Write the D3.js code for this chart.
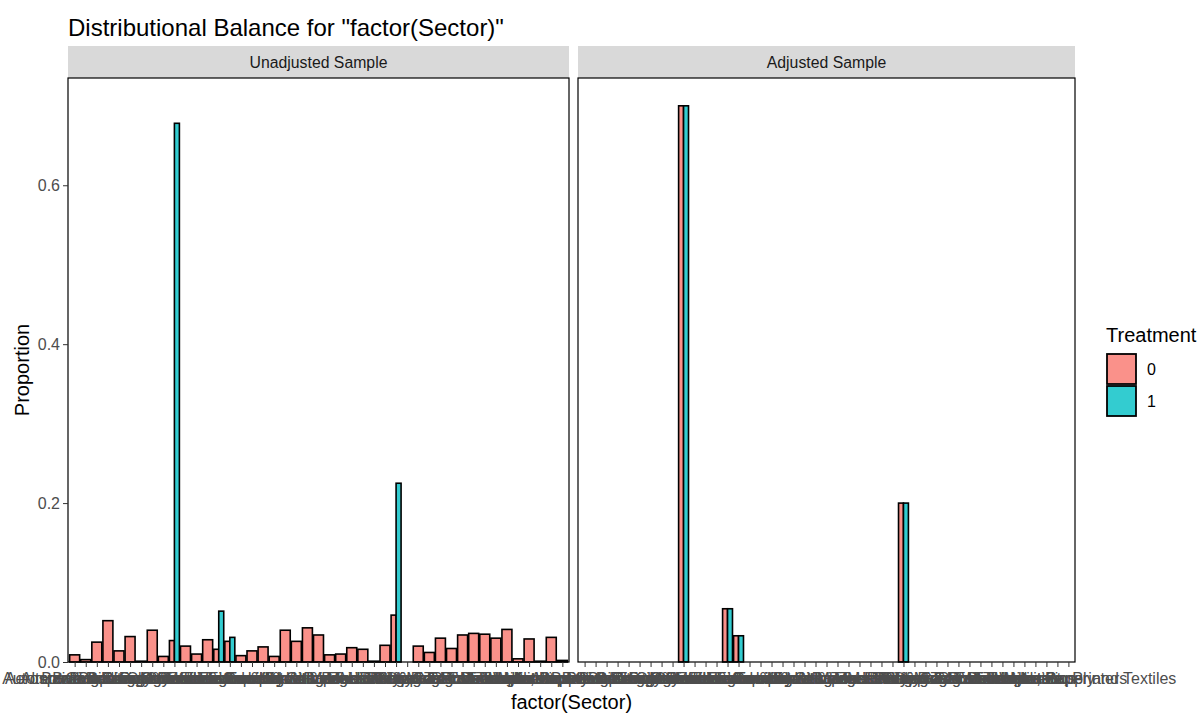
<!DOCTYPE html>
<html>
<head>
<meta charset="utf-8">
<script src="https://cdn.jsdelivr.net/npm/d3@7"></script>
<style>
  body { margin: 0; background: #fff; }
  text { font-family: "Liberation Sans", Arial, sans-serif; }
</style>
</head>
<body>
<script>
// sector levels (alphabetical factor order)
var sectors = [
  "Aerospace Defense", "Alternative Energy", "Automotive & Components",
  "Banking & Finance", "Biotechnology", "Broadcasting & Media", "Building Materials",
  "Business Services", "Chemicals", "Computer Software & Services", "Construction",
  "Consumer Electronics", "Consumer Goods", "Education", "Electrical Equipment",
  "Engineering", "Entertainment & Leisure", "Environmental Services", "Food & Beverages",
  "Forestry & Paper", "Furniture", "Healthcare", "Hotels & Tourism", "Information Technology",
  "Insurance", "Logistics", "Machinery", "Marine & Shipping", "Medical Devices",
  "Metals & Mining", "Oil & Gas", "Pharmaceuticals", "Plastics & Rubber", "Printing & Publishing",
  "Real Estate", "Research & Development", "Retail Trade", "Semiconductors",
  "Telecommunications", "Textiles", "Transportation", "Utilities", "Water Supply",
  "Wholesale, Printers", "Wholesale, Paper and Textiles"
];

// proportions by sector, null = group absent
var unadjTreat0 = [
  0.009, 0.003, 0.025, 0.052, 0.014, 0.032, 0.001, 0.040, 0.007, 0.027,
  0.020, 0.010, 0.028, 0.016, 0.026, 0.008, 0.014, 0.019, 0.007, 0.040,
  0.026, 0.043, 0.034, 0.009, 0.010, 0.018, 0.016, 0.001, 0.021, 0.059,
  null, 0.020, 0.012, 0.030, 0.017, 0.034, 0.036, 0.035, 0.030, 0.041,
  0.004, 0.029, 0.001, 0.031, 0.002
];
var unadjTreat1 = [
  null, null, null, null, null, null, null, null, null, 0.678,
  null, null, null, 0.064, 0.031, null, null, null, null, null,
  null, null, null, null, null, null, null, null, null, 0.225,
  null, null, null, null, null, null, null, null, null, null,
  null, null, null, null, null
];
var adjTreat0 = [
  null, null, null, null, null, null, null, null, null, 0.700,
  null, null, null, 0.067, 0.033, null, null, null, null, null,
  null, null, null, null, null, null, null, null, null, 0.200,
  null, null, null, null, null, null, null, null, null, null,
  null, null, null, null, null
];
var adjTreat1 = [
  null, null, null, null, null, null, null, null, null, 0.700,
  null, null, null, 0.067, 0.033, null, null, null, null, null,
  null, null, null, null, null, null, null, null, null, 0.200,
  null, null, null, null, null, null, null, null, null, null,
  null, null, null, null, null
];
var yTicks = [0, 0.2, 0.4, 0.6];
var groups = ["0", "1"];

var width = 1199, height = 713;
var fills = { "0": "#FA918A", "1": "#33CCD0" };

var svg = d3.select("body").append("svg")
  .attr("width", width)
  .attr("height", height);

var panelTop = 78, panelBottom = 662;
var panels = [
  { label: "Unadjusted Sample", x0: 68, x1: 569, t0: unadjTreat0, t1: unadjTreat1 },
  { label: "Adjusted Sample", x0: 578, x1: 1075, t0: adjTreat0, t1: adjTreat1 }
];

var yMax = d3.max(panels, p => d3.max(p.t0.concat(p.t1))) * 1.05;
var yScale = d3.scaleLinear().domain([0, yMax]).range([panelBottom, panelTop]);

// title
svg.append("text")
  .attr("x", 68).attr("y", 36)
  .attr("font-size", 24).attr("fill", "#000")
  .text('Distributional Balance for "factor(Sector)"');

panels.forEach(function (p) {
  var xScale = d3.scalePoint().domain(sectors).range([p.x0, p.x1]).padding(0.6);
  var step = xScale.step();

  // strip
  svg.append("rect")
    .attr("x", p.x0).attr("y", 46)
    .attr("width", p.x1 - p.x0).attr("height", panelTop - 46)
    .attr("fill", "#D9D9D9");
  svg.append("text")
    .attr("x", (p.x0 + p.x1) / 2).attr("y", 68)
    .attr("text-anchor", "middle")
    .attr("font-size", 15.8).attr("fill", "#1A1A1A")
    .text(p.label);

  // bars (dodged; single group fills whole 0.9 width)
  var bars = [];
  sectors.forEach(function (s, i) {
    var present = [];
    if (p.t0[i] != null) present.push({ g: "0", v: p.t0[i] });
    if (p.t1[i] != null) present.push({ g: "1", v: p.t1[i] });
    var w = 0.9 * step / present.length;
    present.forEach(function (d, k) {
      bars.push({ s: s, g: d.g, v: d.v, x: xScale(s) - 0.45 * step + k * w, w: w });
    });
  });

  svg.append("g").selectAll("rect")
    .data(bars)
    .enter().append("rect")
    .attr("x", d => d.x)
    .attr("width", d => d.w)
    .attr("y", d => yScale(d.v))
    .attr("height", d => yScale(0) - yScale(d.v))
    .attr("fill", d => fills[d.g])
    .attr("stroke", "#000")
    .attr("stroke-width", 1.6);

  // panel border
  svg.append("rect")
    .attr("x", p.x0).attr("y", panelTop)
    .attr("width", p.x1 - p.x0).attr("height", panelBottom - panelTop)
    .attr("fill", "none").attr("stroke", "#000").attr("stroke-width", 1.2);

  // x axis
  var xAxis = svg.append("g")
    .attr("transform", "translate(0," + panelBottom + ")")
    .call(d3.axisBottom(xScale).tickSize(5).tickPadding(6));
  xAxis.select(".domain").remove();
  xAxis.selectAll(".tick line").attr("stroke", "#333").attr("stroke-width", 1);
  xAxis.selectAll(".tick text")
    .attr("font-size", 16).attr("fill", "#4D4D4D")
    .attr("font-family", "Liberation Sans, Arial, sans-serif");
});

// y axis (left panel only)
var yAxis = svg.append("g")
  .attr("transform", "translate(68,0)")
  .call(d3.axisLeft(yScale).tickValues(yTicks).tickFormat(d3.format(".1f")).tickSize(5).tickPadding(3));
yAxis.select(".domain").remove();
yAxis.selectAll(".tick line").attr("stroke", "#333");
yAxis.selectAll(".tick text")
  .attr("font-size", 16).attr("fill", "#4D4D4D")
  .attr("font-family", "Liberation Sans, Arial, sans-serif");

// axis titles
svg.append("text")
  .attr("transform", "translate(29," + (panelTop + panelBottom) / 2 + ") rotate(-90)")
  .attr("text-anchor", "middle")
  .attr("font-size", 20).attr("fill", "#000")
  .text("Proportion");
svg.append("text")
  .attr("x", (68 + 1075) / 2).attr("y", 709)
  .attr("text-anchor", "middle")
  .attr("font-size", 20).attr("fill", "#000")
  .text("factor(Sector)");

// legend
var legend = svg.append("g").attr("transform", "translate(1106,0)");
legend.append("text")
  .attr("x", 0).attr("y", 342)
  .attr("font-size", 20).attr("fill", "#000")
  .text("Treatment");
groups.forEach(function (g, i) {
  var y = 354 + i * 32;
  legend.append("rect")
    .attr("x", 1).attr("y", y)
    .attr("width", 29).attr("height", 30)
    .attr("fill", fills[g])
    .attr("stroke", "#000").attr("stroke-width", 1.8);
  legend.append("text")
    .attr("x", 41).attr("y", y + 21)
    .attr("font-size", 16).attr("fill", "#000")
    .text(g);
});
</script>
</body>
</html>
